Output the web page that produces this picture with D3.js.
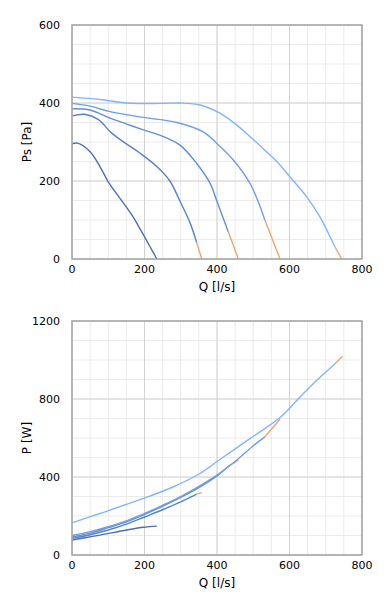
<!DOCTYPE html>
<html>
<head>
<meta charset="utf-8">
<script src="https://cdn.jsdelivr.net/npm/d3@7"></script>
<style>
  body { margin: 0; background: #fff; }
  svg { display: block; font-family: "DejaVu Sans", sans-serif; }
</style>
</head>
<body>
<svg width="389" height="603"></svg>
<script>
// fan curves, 5 speeds; orangeFrom = Q where the curve turns orange
const curveColors = ["#4b6fb2", "#5782c8", "#6190d9", "#6c9eea", "#80b4ff"];
const orangeColor = "#f0a470";
const orangeFrom = [null, 344, 431, 532, 725];

// static pressure Ps [Pa] vs Q [l/s]
const psQ = [
    [0, 15, 50, 77, 100, 132, 165, 192, 215, 234],
    [0, 35, 72, 108, 141, 188, 234, 270, 298, 326, 344, 358],
    [0, 50, 105, 151, 197, 252, 298, 344, 381, 399, 413, 431, 459],
    [0, 50, 105, 197, 289, 362, 399, 445, 491, 519, 532, 574],
    [0, 77, 151, 243, 298, 353, 408, 454, 491, 532, 565, 601, 647, 684, 712, 725, 744]
];
const psVal = [
    [295, 297, 275, 237, 198, 156, 113, 70, 32, 0],
    [367, 371, 358, 324, 301, 271, 237, 200, 148, 92, 42, 0],
    [385, 382, 361, 346, 331, 314, 292, 245, 194, 150, 115, 70, 0],
    [399, 392, 378, 363, 350, 326, 297, 254, 194, 134, 100, 0],
    [415, 409, 400, 399, 400, 395, 374, 344, 314, 279, 250, 211, 160, 108, 57, 32, 0]
];

// power P [W] vs Q [l/s]
const pwQ = [
    [0, 40, 77, 151, 197, 234],
    [0, 50, 100, 150, 200, 250, 300, 344, 358],
    [0, 50, 100, 150, 200, 250, 300, 350, 400, 431, 459],
    [0, 50, 100, 150, 200, 250, 300, 350, 400, 454, 500, 532, 574],
    [0, 77, 197, 280, 353, 408, 491, 574, 624, 666, 725, 746]
];
const pwVal = [
    [77, 90, 102, 128, 142, 148],
    [85, 104, 128, 158, 195, 232, 272, 312, 320],
    [92, 112, 140, 170, 208, 250, 295, 345, 405, 455, 486],
    [100, 120, 145, 175, 213, 255, 300, 352, 410, 486, 560, 606, 696],
    [165, 213, 290, 350, 418, 490, 597, 705, 800, 880, 980, 1019]
];

const xTicks = [0, 200, 400, 600, 800];
const psTicks = [0, 200, 400, 600];
const pwTicks = [0, 400, 800, 1200];

const svg = d3.select("svg");

function drawChart(top, bottom, yMax, yMinor, yTicks, yTitle, qs, vals) {
    const left = 72, right = 362;
    const x = d3.scaleLinear().domain([0, 800]).range([left, right]);
    const y = d3.scaleLinear().domain([0, yMax]).range([bottom, top]);
    const g = svg.append("g");

    // minor grid
    g.selectAll("line.vminor").data(d3.range(0, 801, 50))
        .enter().append("line")
        .attr("x1", d => x(d)).attr("x2", d => x(d))
        .attr("y1", top).attr("y2", bottom)
        .style("stroke", "#ebebeb");
    g.selectAll("line.hminor").data(d3.range(0, yMax + 1, yMinor))
        .enter().append("line")
        .attr("x1", left).attr("x2", right)
        .attr("y1", d => y(d)).attr("y2", d => y(d))
        .style("stroke", "#ebebeb");
    // major grid
    g.selectAll("line.vmajor").data(xTicks)
        .enter().append("line")
        .attr("x1", d => x(d)).attr("x2", d => x(d))
        .attr("y1", top).attr("y2", bottom)
        .style("stroke", "#d2d2d2");
    g.selectAll("line.hmajor").data(yTicks)
        .enter().append("line")
        .attr("x1", left).attr("x2", right)
        .attr("y1", d => y(d)).attr("y2", d => y(d))
        .style("stroke", "#d2d2d2");

    // curves
    const line = d3.line()
        .x(d => x(d[0]))
        .y(d => y(d[1]))
        .curve(d3.curveCatmullRom.alpha(0.5));
    qs.forEach(function (q, i) {
        const pts = q.map((v, j) => [v, vals[i][j]]);
        const cut = orangeFrom[i];
        const blue = cut == null ? pts : pts.filter(p => p[0] <= cut);
        const orange = cut == null ? [] : pts.filter(p => p[0] >= cut);
        g.append("path").attr("d", line(blue))
            .style("fill", "none").style("stroke", curveColors[i]).style("stroke-width", 1.4);
        if (orange.length > 1) {
            g.append("path").attr("d", line(orange))
                .style("fill", "none").style("stroke", orangeColor).style("stroke-width", 1.4);
        }
    });

    // frame
    g.append("rect")
        .attr("x", left).attr("y", top)
        .attr("width", right - left).attr("height", bottom - top)
        .style("fill", "none").style("stroke", "#a6a6a6").style("stroke-width", 1.5);

    // tick labels
    g.selectAll("text.xt").data(xTicks)
        .enter().append("text")
        .attr("x", d => x(d)).attr("y", bottom + 14)
        .attr("text-anchor", "middle")
        .style("font-size", "11px")
        .text(d => d);
    g.selectAll("text.yt").data(yTicks)
        .enter().append("text")
        .attr("x", 60).attr("y", d => y(d) + 4)
        .attr("text-anchor", "end")
        .style("font-size", "11px")
        .text(d => d);

    // titles
    g.append("text")
        .attr("x", (left + right) / 2).attr("y", bottom + 32)
        .attr("text-anchor", "middle")
        .style("font-size", "12px")
        .text("Q [l/s]");
    g.append("text")
        .attr("transform", "translate(31," + (top + bottom) / 2 + ") rotate(-90)")
        .attr("text-anchor", "middle")
        .style("font-size", "12px")
        .text(yTitle);
}

drawChart(25, 259, 600, 50, psTicks, "Ps [Pa]", psQ, psVal);
drawChart(321, 555, 1200, 100, pwTicks, "P [W]", pwQ, pwVal);
</script>
</body>
</html>
